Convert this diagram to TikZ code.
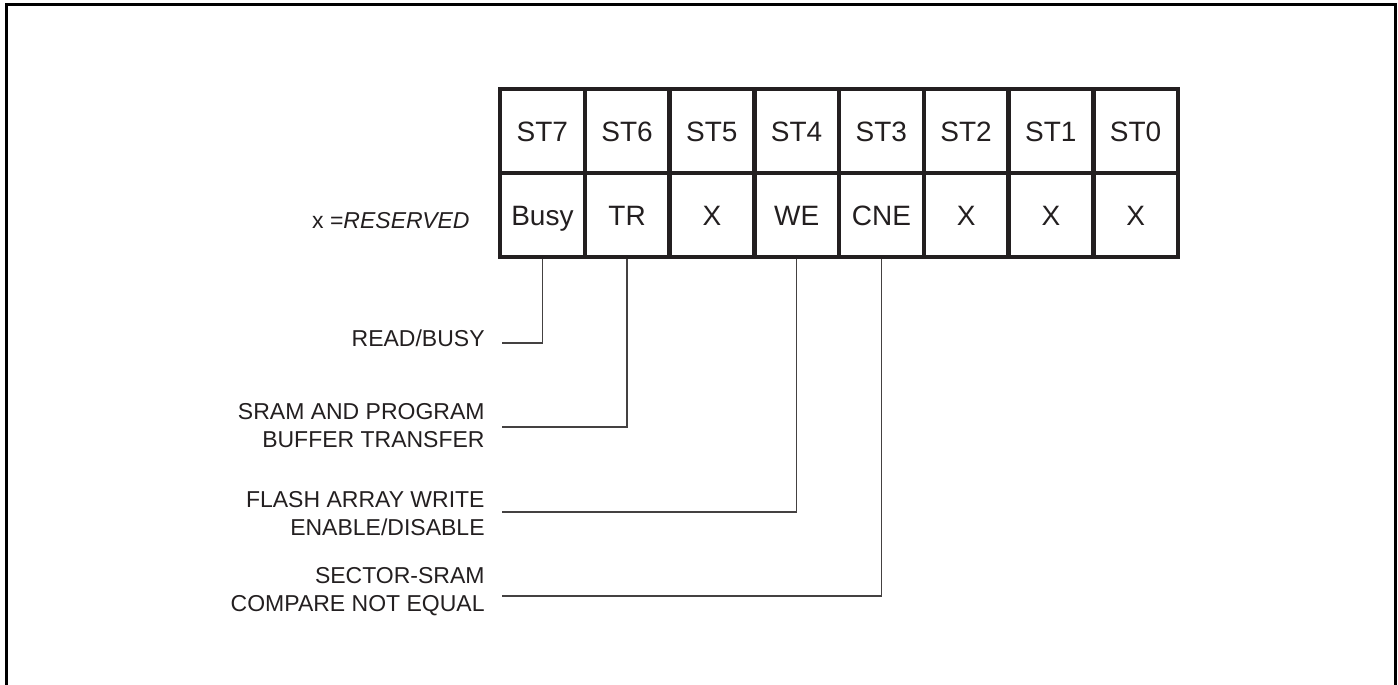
\documentclass[tikz,border=0pt]{standalone}
\usepackage{fontspec}
\setmainfont{Liberation Sans}
\definecolor{ink}{HTML}{231F20}
\begin{document}
\begin{tikzpicture}[x=0.5pt,y=-0.5pt,
  cell/.style={draw=ink,line width=2.25pt,minimum width=42.375pt,minimum height=42pt,
    inner sep=0pt,text height=10pt,text depth=0pt,text=ink,font=\fontsize{14}{16}\selectfont},
  lbl/.style={anchor=east,inner sep=0pt,align=right,text=ink,font=\fontsize{11.5}{14}\selectfont},
  conn/.style={draw=ink!85,line width=0.75pt},
  frame/.style={draw=black,line width=1.35pt}]
\useasboundingbox (0,0) rectangle (1398,685);
\draw[frame] (6.2,685) -- (6.2,4.7) -- (1395.3,4.7) -- (1395.3,685);
% header row
\foreach \i/\t in {0/ST7,1/ST6,2/ST5,3/ST4,4/ST3,5/ST2,6/ST1,7/ST0}{
  \node[cell] (h\i) at ({500+84.75*(\i+0.5)},131) {\t};
}
% value row
\foreach \i/\t in {0/Busy,1/TR,2/X,3/WE,4/CNE,5/X,6/X,7/X}{
  \node[cell] (b\i) at ({500+84.75*(\i+0.5)},215) {\t};
}
\node[anchor=east,inner sep=0pt,text=ink,font=\fontsize{11.5}{14}\selectfont] (res) at (470,221) {x =\textit{RESERVED}};
% labels
\node[lbl] (l7) at (485,338.5) {READ/BUSY};
\node[lbl] (l6) at (485,426) {SRAM AND PROGRAM\\BUFFER TRANSFER};
\node[lbl] (l4) at (485,513.5) {FLASH ARRAY WRITE\\ENABLE/DISABLE};
\node[lbl] (l3) at (485,591.5) {SECTOR-SRAM\\COMPARE NOT EQUAL};
% connector ends
\coordinate (c7) at (502,343);
\coordinate (c6) at (502,427);
\coordinate (c4) at (502,512);
\coordinate (c3) at (502,596);
\draw[conn] (b0.south) |- (c7);
\draw[conn] (b1.south) |- (c6);
\draw[conn] (b3.south) |- (c4);
\draw[conn] (b4.south) |- (c3);
\end{tikzpicture}
\end{document}
